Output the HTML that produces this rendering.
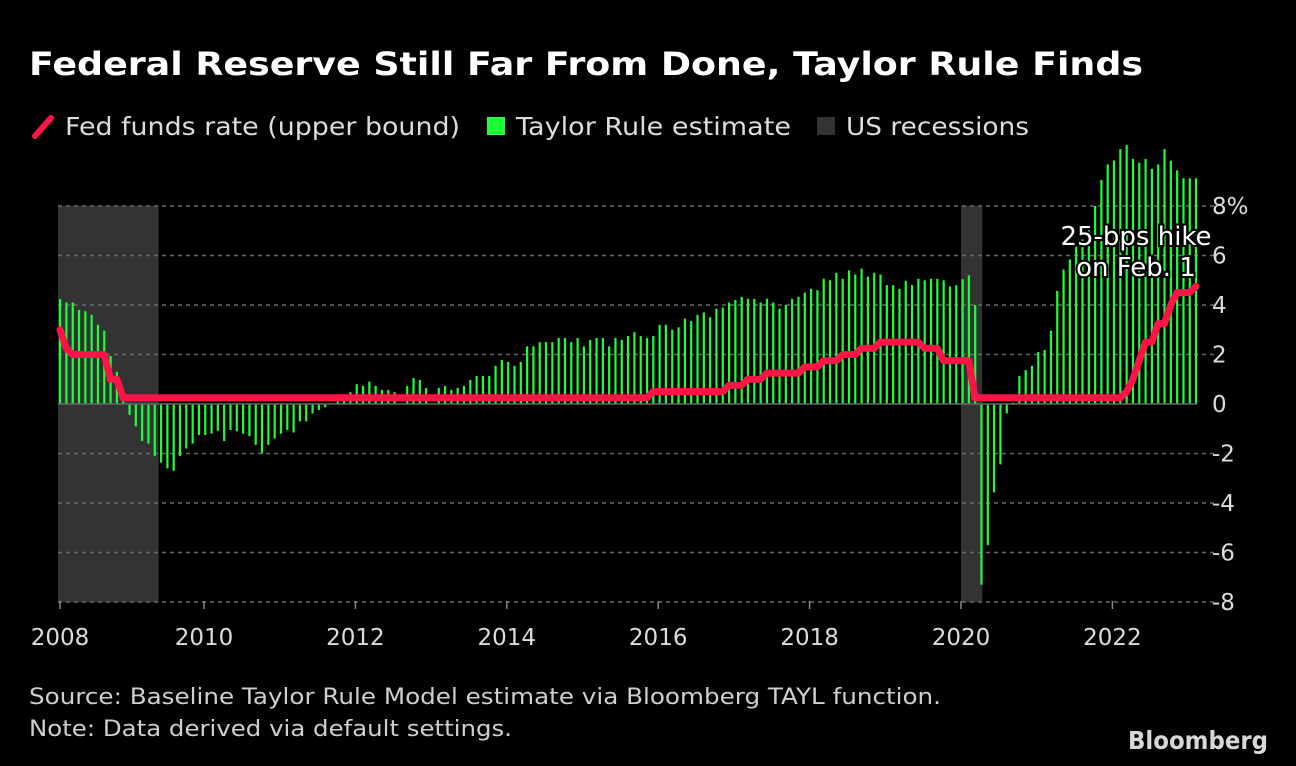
<!DOCTYPE html>
<html><head><meta charset="utf-8"><style>
html,body{margin:0;padding:0;background:#000;}
svg{display:block;font-family:"DejaVu Sans","Liberation Sans",sans-serif;}
</style></head><body>
<svg id="chart" width="1296" height="766" viewBox="0 0 1296 766" xmlns="http://www.w3.org/2000/svg">
<rect width="1296" height="766" fill="#000"/>
<text x="29" y="75" fill="#fff" font-size="32" font-weight="bold" textLength="1114" lengthAdjust="spacingAndGlyphs">Federal Reserve Still Far From Done, Taylor Rule Finds</text>
<g font-size="25" fill="#dcdcdc">
 <g><line x1="35" y1="136" x2="51" y2="118" stroke="#ff1448" stroke-width="6" stroke-linecap="round"/><text x="65" y="135" textLength="395" lengthAdjust="spacingAndGlyphs">Fed funds rate (upper bound)</text></g>
 <g><rect x="487" y="117" width="18" height="18" fill="#1aff3a"/><text x="516" y="135" textLength="275" lengthAdjust="spacingAndGlyphs">Taylor Rule estimate</text></g>
 <g><rect x="817" y="117" width="18" height="18" fill="#333"/><text x="846" y="135" textLength="183" lengthAdjust="spacingAndGlyphs">US recessions</text></g>
</g>
<g id="plot"></g>
<g font-size="22" fill="#cfcfcf">
 <text x="29" y="704" textLength="912" lengthAdjust="spacingAndGlyphs">Source: Baseline Taylor Rule Model estimate via Bloomberg TAYL function.</text>
 <text x="29" y="736" textLength="483" lengthAdjust="spacingAndGlyphs">Note: Data derived via default settings.</text>
</g>
<text x="1128" y="749" fill="#d8d8d8" font-size="25" font-weight="bold" textLength="140" lengthAdjust="spacingAndGlyphs">Bloomberg</text>
</svg>
<script>
const taylor = [
4.24,4.1,4.1,3.8,3.75,3.6,3.2,2.96,1.94,1.3,0.1,-0.44,
-0.9,-1.5,-1.6,-2.1,-2.37,-2.6,-2.7,-2.1,-1.8,-1.6,-1.25,-1.25,
-1.2,-1.08,-1.5,-1.05,-1.1,-1.2,-1.3,-1.65,-2.0,-1.65,-1.4,-1.2,
-1.05,-1.15,-0.7,-0.7,-0.38,-0.24,-0.13,0.02,0.1,0.3,0.48,0.8,
0.73,0.9,0.73,0.57,0.57,0.48,0,0.73,1.05,0.97,0.65,0,
0.65,0.73,0.57,0.65,0.73,0.97,1.13,1.13,1.13,1.54,1.78,1.7,
1.54,1.7,2.33,2.33,2.5,2.5,2.5,2.67,2.67,2.5,2.67,2.33,
2.59,2.67,2.67,2.33,2.67,2.59,2.75,2.9,2.75,2.67,2.75,3.2,
3.2,3.0,3.1,3.45,3.35,3.6,3.7,3.5,3.85,3.9,4.1,4.2,
4.33,4.25,4.25,4.1,4.25,4.1,3.85,4.0,4.25,4.33,4.5,4.65,
4.6,5.06,5.0,5.3,5.06,5.4,5.23,5.47,5.15,5.3,5.23,4.8,
4.8,4.65,4.98,4.8,5.06,5.0,5.06,5.06,5.0,4.75,4.8,5.04,
5.2,4.0,-7.3,-5.7,-3.57,-2.44,-0.38,0.05,1.13,1.37,1.54,2.1,
2.18,2.96,4.57,5.44,5.84,6.38,6.65,7.06,8.0,9.05,9.68,9.84,
10.3,10.46,9.9,9.75,9.9,9.5,9.68,10.3,9.83,9.44,9.12,9.12,
9.12];
const fedFunds = [
3,2.25,2,2,2,2,2,2,1,1,0.25,0.25,
0.25,0.25,0.25,0.25,0.25,0.25,0.25,0.25,0.25,0.25,0.25,0.25,
0.25,0.25,0.25,0.25,0.25,0.25,0.25,0.25,0.25,0.25,0.25,0.25,
0.25,0.25,0.25,0.25,0.25,0.25,0.25,0.25,0.25,0.25,0.25,0.25,
0.25,0.25,0.25,0.25,0.25,0.25,0.25,0.25,0.25,0.25,0.25,0.25,
0.25,0.25,0.25,0.25,0.25,0.25,0.25,0.25,0.25,0.25,0.25,0.25,
0.25,0.25,0.25,0.25,0.25,0.25,0.25,0.25,0.25,0.25,0.25,0.25,
0.25,0.25,0.25,0.25,0.25,0.25,0.25,0.25,0.25,0.25,0.5,0.5,
0.5,0.5,0.5,0.5,0.5,0.5,0.5,0.5,0.5,0.5,0.75,0.75,
0.75,1,1,1,1.25,1.25,1.25,1.25,1.25,1.25,1.5,1.5,
1.5,1.75,1.75,1.75,2,2,2,2.25,2.25,2.25,2.5,2.5,
2.5,2.5,2.5,2.5,2.5,2.25,2.25,2.25,1.75,1.75,1.75,1.75,
1.75,0.25,0.25,0.25,0.25,0.25,0.25,0.25,0.25,0.25,0.25,0.25,
0.25,0.25,0.25,0.25,0.25,0.25,0.25,0.25,0.25,0.25,0.25,0.25,
0.25,0.5,1,1.75,2.5,2.5,3.25,3.25,4,4.5,4.5,4.5,
4.75];
const yTicks = [8,6,4,2,0,-2,-4,-6,-8];
const yTickLabels = ["8%","6","4","2","0","-2","-4","-6","-8"];
const xYears = [2008,2010,2012,2014,2016,2018,2020,2022];
const recessions = [[2008.0,2009.4],[2020.0,2020.28]];

const NS = "http://www.w3.org/2000/svg";
const plot = document.getElementById("plot");
const y = v => 404 - v * 24.75;
const xi = i => 60 + i * 6.311;
const xYear = yr => Math.max(58, 204 + (yr - 2010) * 75.7);
function mk(tag, attrs, parent){const e=document.createElementNS(NS,tag);for(const k in attrs)e.setAttribute(k,attrs[k]);(parent||plot).appendChild(e);return e;}

recessions.forEach(r=>{
  const e = mk("rect",{x:xYear(r[0]),y:y(8),width:xYear(r[1])-xYear(r[0]),height:y(-8)-y(8),fill:"#333"});
  
  
});
yTicks.forEach((t,k)=>{
  if(t!==0){
    const g = mk("line",{x1:58,x2:1215,y1:y(t),y2:y(t),stroke:"#6a6a6a","stroke-width":1.5,"stroke-dasharray":"4 4"});
    
    
  }
  const tx = mk("text",{x:1212,y:y(t)+8,fill:"#dcdcdc","font-size":23});
  tx.textContent = yTickLabels[k];
  
  
});
taylor.forEach((v,i)=>{
  const b = mk("rect",{x:xi(i)-1,y:Math.min(y(v),y(0)),width:2.2,height:Math.abs(y(v)-y(0)),fill:"#1aff3a"});
  
  
});
const zl = mk("line",{x1:58,x2:1197,y1:y(0),y2:y(0),stroke:"#666","stroke-width":1.5});


const pts = fedFunds.map((v,i)=>xi(i).toFixed(1)+","+y(v).toFixed(1)).join(" ");
const ln = mk("polyline",{points:pts,fill:"none",stroke:"#ff1448","stroke-width":7,"stroke-linejoin":"round","stroke-linecap":"round"});


xYears.forEach(yr=>{
  const xx = yr===2008 ? 60 : xYear(yr);
  const t = mk("line",{x1:xx,x2:xx,y1:601,y2:609,stroke:"#888","stroke-width":1.5});
  
  
  const l = mk("text",{x:xx,y:645,fill:"#dcdcdc","font-size":23,"text-anchor":"middle"});
  l.textContent = yr;
  
  
});
["25-bps hike","on Feb. 1"].forEach((s,k)=>{
  const a = mk("text",{x:1136,y:245+k*31,fill:"#fff","font-size":26,"text-anchor":"middle",stroke:"#000","stroke-width":4,"paint-order":"stroke"});
  a.textContent = s;
  
  
});
</script>
</body></html>
